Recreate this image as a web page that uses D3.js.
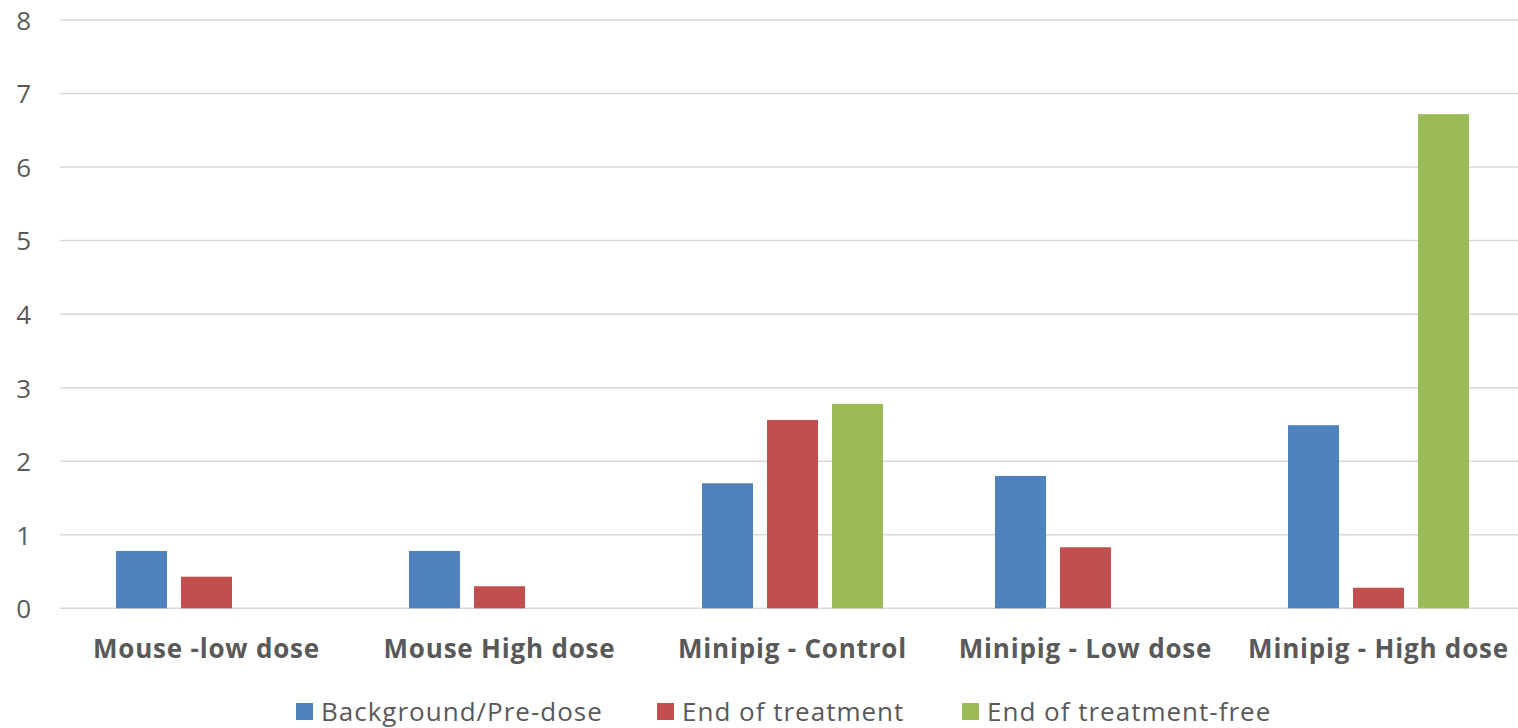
<!DOCTYPE html>
<html>
<head>
<meta charset="utf-8">
<script src="https://cdn.jsdelivr.net/npm/d3@7"></script>
<style>
  html, body { margin: 0; padding: 0; background: #fff; }
  svg { display: block; }
  text { font-family: "Open Sans", Lato, sans-serif; fill: #595959; }
</style>
</head>
<body>
<svg id="chart" width="1518" height="728"></svg>
<script>
const categories = ["Mouse -low dose", "Mouse High dose", "Minipig - Control", "Minipig - Low dose", "Minipig - High dose"];
const seriesNames = ["Background/Pre-dose", "End of treatment", "End of treatment-free"];
const backgroundPreDose = [0.78, 0.78, 1.70, 1.80, 2.49];
const endOfTreatment = [0.43, 0.30, 2.56, 0.83, 0.28];
const endOfTreatmentFree = [null, null, 2.78, null, 6.72];
const yTicks = [0, 1, 2, 3, 4, 5, 6, 7, 8];
const seriesColors = ["#4F81BD", "#C0504D", "#9BBB59"];

(function () {
  const seriesValues = [backgroundPreDose, endOfTreatment, endOfTreatmentFree];
  const fontFamily = "'Open Sans', Lato, sans-serif";

  const svg = d3.select("#chart");
  const plotLeft = 60, plotRight = 1525, plotTop = 20, plotBottom = 608.3;

  const x0 = d3.scaleBand().domain(categories).range([plotLeft, plotRight]).padding(0);
  const x1 = d3.scaleBand().domain(seriesNames).range([0, x0.bandwidth()])
    .paddingInner(0.215).paddingOuter(0.8615);
  const y = d3.scaleLinear().domain([0, 8]).range([plotBottom, plotTop]);
  const color = d3.scaleOrdinal().domain(seriesNames).range(seriesColors);

  // horizontal gridlines
  svg.append("g")
    .selectAll("line")
    .data(yTicks)
    .join("line")
    .attr("x1", plotLeft).attr("x2", plotRight)
    .attr("y1", d => y(d)).attr("y2", d => y(d))
    .attr("stroke", "#D9D9D9").attr("stroke-width", 1.5);

  // y axis labels
  const yAxis = d3.axisLeft(y).tickValues(yTicks).tickSize(0).tickPadding(0).tickFormat(d3.format("d"));
  const yg = svg.append("g").attr("transform", "translate(31,0)").call(yAxis);
  yg.select(".domain").remove();
  yg.selectAll("text").attr("font-size", 26).attr("fill", "#595959")
    .attr("font-family", fontFamily).attr("dy", "0.36em");

  // bars
  const bars = [];
  categories.forEach((c, i) => {
    seriesNames.forEach((s, j) => {
      const v = seriesValues[j][i];
      if (v !== null && v !== undefined) bars.push({ c, s, v });
    });
  });
  svg.append("g")
    .selectAll("rect")
    .data(bars)
    .join("rect")
    .attr("x", d => x0(d.c) + x1(d.s))
    .attr("width", x1.bandwidth())
    .attr("y", d => y(d.v))
    .attr("height", d => y(0) - y(d.v))
    .attr("fill", d => color(d.s));

  // category labels
  const xAxis = d3.axisBottom(x0).tickSize(0).tickPadding(0);
  const xg = svg.append("g").attr("transform", `translate(0,${plotBottom})`).call(xAxis);
  xg.select(".domain").remove();
  xg.selectAll("text").attr("font-size", 26).attr("font-weight", "bold").attr("fill", "#595959")
    .attr("letter-spacing", 0.8)
    .attr("font-family", fontFamily).attr("dy", null).attr("y", 50);

  // legend
  const legendX = [296, 657, 962];
  const lg = svg.append("g");
  seriesNames.forEach((s, j) => {
    const g = lg.append("g").attr("transform", `translate(${legendX[j]},0)`);
    g.append("rect").attr("x", 0).attr("y", 703).attr("width", 17).attr("height", 17).attr("fill", color(s));
    g.append("text").attr("x", 25).attr("y", 721).attr("font-size", 26)
      .attr("letter-spacing", 1.0)
      .attr("font-family", fontFamily).text(s);
  });
})();
</script>
</body>
</html>
